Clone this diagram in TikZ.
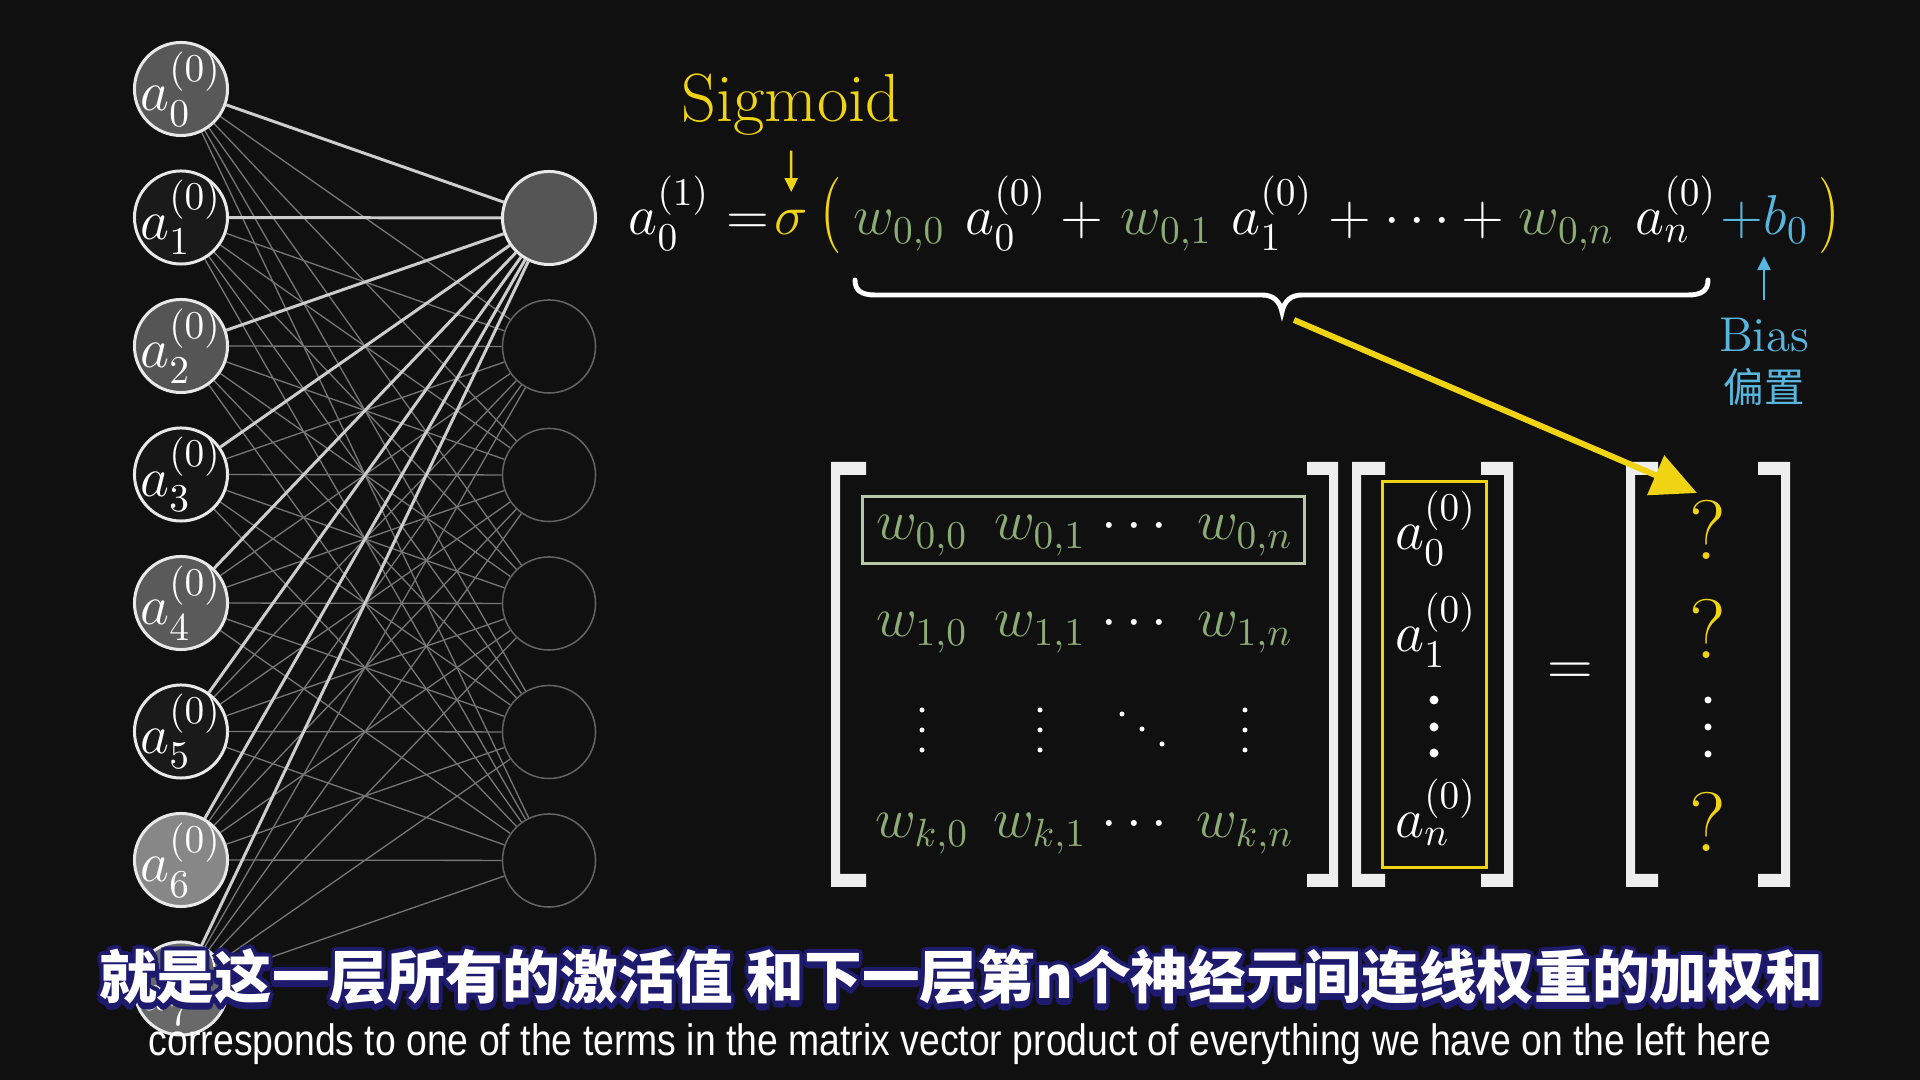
\RequirePackage{fix-cm}
\documentclass[tikz,border=0pt]{standalone}
\usepackage{amsmath}
\usepackage{fontspec}
\newfontfamily\cjk{Noto Sans CJK SC}
\newfontfamily\subfont{Liberation Sans}
\usetikzlibrary{arrows.meta,backgrounds}

\definecolor{bgdark}{RGB}{16,16,16}
\definecolor{wgreen}{RGB}{140,172,118}
\definecolor{sigyellow}{RGB}{240,212,20}
\definecolor{biasblue}{RGB}{88,182,222}
\definecolor{rowgreen}{RGB}{186,198,168}
\definecolor{linkgrey}{RGB}{118,118,118}
\definecolor{linklight}{RGB}{205,205,205}
\definecolor{ringwhite}{RGB}{232,232,232}
\definecolor{idlering}{RGB}{100,100,100}
\definecolor{brkwhite}{RGB}{238,238,238}
\definecolor{subnavy}{RGB}{30,26,110}

\newcommand{\eqsize}{\fontsize{16}{19}\selectfont}
\newcommand{\subcntext}{就是这一层所有的激活值 和下一层第n个神经元间连线权重的加权和}

\tikzset{
  neuron/.style={circle, draw=ringwhite, line width=0.85pt, minimum size=0.93cm, inner sep=0pt},
  lbl/.style={inner sep=0pt, text=white, font=\eqsize},
  idle/.style={circle, draw=idlering, line width=0.43pt, minimum size=0.93cm, inner sep=0pt},
  link/.style={linkgrey, line width=0.37pt},
  hot/.style={linklight, line width=0.85pt},
  term/.style={anchor=base west, inner sep=0pt, text=white, font=\eqsize},
  entry/.style={anchor=base, inner sep=0pt, text=wgreen, font=\eqsize},
  qmark/.style={inner sep=0pt, text=sigyellow, font=\fontsize{24}{28}\selectfont},
  brk/.style={fill=brkwhite},
  pointer/.style={line width=0.7pt, -{Triangle[length=0.14cm,width=0.13cm]}},
  cnline/.style={font=\cjk\bfseries\fontsize{16.4}{18}\selectfont},
}

\begin{document}
\begin{tikzpicture}[x=0.01cm,y=-0.01cm]
\useasboundingbox (0,0) rectangle (1920,1080);

% network
\foreach \i/\g in {0/88,1/26,2/85,3/22,4/90,5/26,6/135,7/105}
  \node[neuron, fill={rgb,255:red,\g;green,\g;blue,\g}, label={[lbl]center:$a_{\i}^{(0)}$}] (in\i) at (181,{89+128.5*\i}) {};
\node[neuron, fill={rgb,255:red,85;green,85;blue,85}] (out0) at (549,218) {};
\foreach \j in {1,...,5}
  \node[idle] (out\j) at (549,{218+128.5*\j}) {};

\begin{scope}[on background layer]
\fill[bgdark] (0,0) rectangle (1920,1080);
\foreach \i in {0,...,7}
  \foreach \j in {1,...,5}
    \draw[link] (in\i) -- (out\j);
\foreach \i in {0,...,7}
  \draw[hot] (in\i) -- (out0);
\end{scope}

% equation
\node[anchor=base, inner sep=0pt, text=sigyellow, font=\fontsize{19.4}{22}\selectfont] (sigtxt) at (791,122) {Sigmoid};
\node[term] (lhs) at (628,235) {$a_0^{(1)}$};
\node[term] (eqs) at (726,235) {$=$};
\node[term, text=sigyellow] (sig) at (774,235) {$\sigma$};
\node[term, text=sigyellow] (lp) at (820,235) {\scalebox{1}[1.35]{$($}};
\node[term, text=wgreen] (w00) at (853,235) {$w_{0,0}$};
\node[term] (a00) at (965,235) {$a_0^{(0)}$};
\node[term] (p1) at (1060,235) {$+$};
\node[term, text=wgreen] (w01) at (1120,235) {$w_{0,1}$};
\node[term] (a01) at (1231,235) {$a_1^{(0)}$};
\node[term] (p2) at (1328,235) {$+$};
\node[term] (cd) at (1384,235) {$\cdots$};
\node[term] (p3) at (1461,235) {$+$};
\node[term, text=wgreen] (w0n) at (1518,235) {$w_{0,n}$};
\node[term] (a0n) at (1635,235) {$a_n^{(0)}$};
\node[term, text=biasblue] (pb) at (1720,235) {$+$};
\node[term, text=biasblue] (b0) at (1763,235) {$b_0$};
\node[term, text=sigyellow] (rp) at (1818,235) {\scalebox{1}[1.35]{$)$}};
\draw[pointer, sigyellow, shorten <=0.14cm, shorten >=0.18cm] (sigtxt.south) -- (sig.north);

\node[anchor=base, inner sep=0pt, text=biasblue, font=\fontsize{13.9}{16}\selectfont] (biastxt) at (1764,352) {Bias};
\node[inner sep=0pt, text=biasblue, font=\cjk\fontsize{11.5}{14}\selectfont] (biascn) at (1764,387) {偏置};
\draw[pointer, biasblue, shorten <=0.18cm, shorten >=0.12cm] (biastxt.north) -- (biastxt.north |- b0.south);

% brace under the weighted sum
\draw[white, line width=1.4pt, line cap=round]
  (855,280) .. controls (855,291) and (862,295) .. (875,295) -- (1262,295)
  .. controls (1274,295) and (1280,302) .. (1282,312) coordinate (bracetip)
  .. controls (1284,302) and (1290,295) .. (1302,295) -- (1688,295)
  .. controls (1701,295) and (1708,291) .. (1708,280);

% matrix, vector, result
\foreach \xa/\xb in {831/866,1352/1385,1626/1658}
  \fill[brk] (\xa,462) -- (\xb,462) -- (\xb,475) -- ({\xa+9},475) -- ({\xa+9},874) -- (\xb,874) -- (\xb,887) -- (\xa,887) -- cycle;
\foreach \xa/\xb in {1307/1338,1481/1513,1758/1790}
  \fill[brk] (\xb,462) -- (\xa,462) -- (\xa,475) -- ({\xb-9},475) -- ({\xb-9},874) -- (\xa,874) -- (\xa,887) -- (\xb,887) -- cycle;

\foreach \r/\y in {0/540,1/637,k/838} {
  \node[entry] (m\r0) at (922,\y) {$w_{\r,0}$};
  \node[entry] (m\r1) at (1040,\y) {$w_{\r,1}$};
  \node[entry, text=white] (m\r2) at (1139,\y) {$\cdots$};
  \node[entry] (m\r3) at (1245,\y) {$w_{\r,n}$};
}
\foreach \x in {922,1040,1245}
  \foreach \y in {710,730,750}
    \fill[white] (\x,\y) circle (0.025cm);
\foreach \x/\y in {1122/714,1142/729,1162/744}
  \fill[white] (\x,\y) circle (0.025cm);
\node[draw=rowgreen, line width=0.85pt, minimum width=4.41cm, minimum height=0.66cm] (rowsel) at (1083.5,530) {};

\foreach \s/\y in {0/550,1/652,n/838}
  \node[entry, text=white] (v\s) at (1436,\y) {$a_{\s}^{(0)}$};
\foreach \y in {700,727,753}
  \fill[white] (1434,\y) circle (0.045cm);
\node[draw=sigyellow, line width=0.85pt, minimum width=1.03cm, minimum height=3.85cm] (vecsel) at (1434.5,674.5) {};

\node[inner sep=0pt, text=white, font=\fontsize{18}{20}\selectfont] (eqm) at (1570,674) {$=$};

\foreach \i/\y in {0/530,1/629,2/822}
  \node[qmark] (q\i) at (1708,\y) {?};
\foreach \y in {700,727,754}
  \fill[white] (1708,\y) circle (0.035cm);

\coordinate (sumfrom) at (1294,320);
\coordinate (qtip) at (1697,493);
\draw[sigyellow, line width=1.7pt, -{Triangle[length=0.45cm,width=0.42cm]}] (sumfrom) -- (qtip);

% subtitles
\foreach \dx/\dy [count=\k] in {-3/-3,0/-4,3/-3,-4/0,4/0,-3/4,0/5,3/4,0/7,-2/6,2/6}
  \node[cnline, text=subnavy] (shade\k) at ({961+\dx},{977+\dy}) {\subcntext};
\node[cnline, text=white] (subcn) at (961,977) {\subcntext};
\node[text=white, font=\subfont\fontsize{12.5}{14}\selectfont] (suben) at (960,1044)
  {\scalebox{0.85}[1]{corresponds to one of the terms in the matrix vector product of everything we have on the left here}};
\end{tikzpicture}
\end{document}
